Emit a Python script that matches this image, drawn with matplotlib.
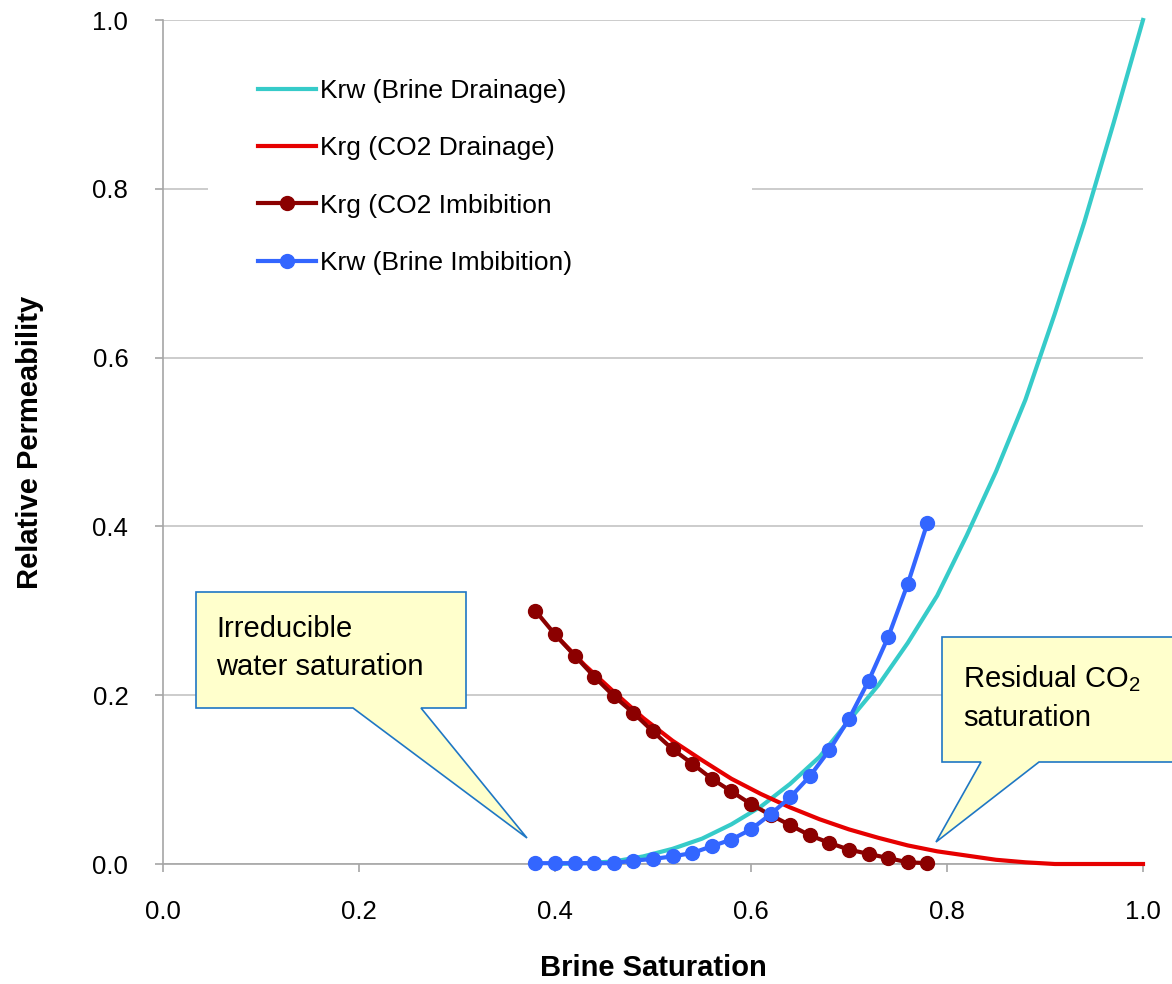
import matplotlib
matplotlib.use("Agg")
import matplotlib.pyplot as plt
from matplotlib.patches import Polygon, Rectangle
from matplotlib.transforms import Affine2D

# ---------------- data ----------------
sw_drainage = [0.40, 0.43, 0.46, 0.49, 0.52, 0.55, 0.58, 0.61, 0.64, 0.67, 0.70,
               0.73, 0.76, 0.79, 0.82, 0.85, 0.88, 0.91, 0.94, 0.97, 1.00]
krw_drainage = [0.000, 0.001, 0.003, 0.009, 0.018, 0.030, 0.047, 0.068, 0.095, 0.127, 0.170,
                0.212, 0.262, 0.318, 0.389, 0.465, 0.550, 0.652, 0.760, 0.878, 1.000]
krg_drainage = [0.272, 0.236, 0.204, 0.173, 0.146, 0.123, 0.101, 0.083, 0.067, 0.053, 0.041,
                0.031, 0.022, 0.015, 0.010, 0.005, 0.002, 0.000, 0.000, 0.000, 0.000]

sw_imbibition = [0.38, 0.40, 0.42, 0.44, 0.46, 0.48, 0.50, 0.52, 0.54, 0.56, 0.58,
                 0.60, 0.62, 0.64, 0.66, 0.68, 0.70, 0.72, 0.74, 0.76, 0.78]
krg_imbibition = [0.300, 0.272, 0.247, 0.222, 0.199, 0.179, 0.157, 0.136, 0.119, 0.101, 0.086,
                  0.071, 0.058, 0.046, 0.034, 0.025, 0.017, 0.012, 0.007, 0.002, 0.001]
krw_imbibition = [0.001, 0.001, 0.001, 0.001, 0.001, 0.004, 0.006, 0.009, 0.013, 0.021, 0.029,
                  0.041, 0.059, 0.079, 0.104, 0.135, 0.172, 0.217, 0.269, 0.332, 0.404]

labels = ["Krw (Brine Drainage)", "Krg (CO2 Drainage)",
          "Krg (CO2 Imbibition", "Krw (Brine Imbibition)"]
xticks = [0.0, 0.2, 0.4, 0.6, 0.8, 1.0]
yticks = [0.0, 0.2, 0.4, 0.6, 0.8, 1.0]
callout_left = "Irreducible\nwater saturation"
callout_right = "Residual CO$_2$\nsaturation"

# ---------------- figure ----------------
plt.rcParams['font.family'] = ['Liberation Sans', 'DejaVu Sans']
plt.rcParams['mathtext.default'] = 'regular'

W, H = 1172, 984
fig = plt.figure(figsize=(W / 100, H / 100), dpi=100)
ax = fig.add_axes([163 / W, 1 - 864 / H, (1143 - 163) / W, (864 - 20) / H])
ax.set_xlim(0, 1)
ax.set_ylim(0, 1)

grey = '#A6A6A6'
for s in ['top', 'right']:
    ax.spines[s].set_visible(False)
for s in ['left', 'bottom']:
    ax.spines[s].set_color(grey)
    ax.spines[s].set_linewidth(1.2)
ax.set_xticks(xticks)
ax.set_yticks(yticks)
ax.set_xticklabels([f"{v:.1f}" for v in xticks])
ax.set_yticklabels([f"{v:.1f}" for v in yticks])
ax.tick_params(axis='both', direction='out', length=6, width=1.2, color=grey,
               labelsize=18.5, labelcolor='black')
ax.tick_params(axis='y', pad=19)
ax.tick_params(axis='x', pad=20)
ax.yaxis.grid(True, color='#C8C8C8', linewidth=1.3)
ax.set_axisbelow(True)

# white legend background (covers grid)
ax.add_patch(Rectangle((208 / W, 1 - 300 / H), (752 - 208) / W, (300 - 40) / H,
                       transform=fig.transFigure, facecolor='white', edgecolor='none',
                       zorder=1.5))

c_cyan = '#36CBC9'
c_red = '#E60000'
c_dark = '#8B0000'
c_blue = '#3366FF'
lw = 3.0
ax.plot(sw_drainage, krw_drainage, color=c_cyan, lw=lw, label=labels[0], zorder=3, clip_on=False)
ax.plot(sw_drainage, krg_drainage, color=c_red, lw=lw, label=labels[1], zorder=3, clip_on=False)
ax.plot(sw_imbibition, krg_imbibition, color=c_dark, lw=lw, marker='o', ms=10,
        label=labels[2], zorder=4, clip_on=False)
ax.plot(sw_imbibition, krw_imbibition, color=c_blue, lw=lw, marker='o', ms=10,
        label=labels[3], zorder=5, clip_on=False)

ax.set_xlabel("Brine Saturation", fontsize=21, fontweight='bold', va='center')
ax.set_ylabel("Relative Permeability", fontsize=21, fontweight='bold', va='center')
ax.xaxis.set_label_coords(0.5, (864 - 968) / 844)
ax.yaxis.set_label_coords((30 - 163) / 980, 0.5)

leg = ax.legend(loc='upper left', bbox_to_anchor=(258 / W, 1 - 79 / H),
                bbox_transform=fig.transFigure, frameon=False, fontsize=19,
                handlelength=2.2, handletextpad=0.15, labelspacing=1.26,
                borderpad=0, borderaxespad=0)
leg.set_zorder(6)

# ---------------- callouts (figure pixel coords) ----------------
pix = Affine2D().scale(1 / W, -1 / H).translate(0, 1) + fig.transFigure
fill = '#FFFFCC'
edge = '#1F77C4'
left_poly = [(196, 592), (466, 592), (466, 708), (421, 708), (527, 838),
             (353, 708), (196, 708)]
right_poly = [(942, 637), (1180, 637), (1180, 762), (1039, 762), (936, 842),
              (981, 762), (942, 762)]
for poly in (left_poly, right_poly):
    fig.patches.append(Polygon(poly, closed=True, facecolor=fill, edgecolor=edge,
                               linewidth=1.2, transform=pix, zorder=10))

fig.text(216, 648, callout_left, transform=pix, fontsize=21, ha='left', va='center',
         linespacing=1.45, zorder=11)
fig.text(963, 698, callout_right, transform=pix, fontsize=21, ha='left', va='center',
         linespacing=1.45, zorder=11)

fig.savefig("out.png", dpi=100)
